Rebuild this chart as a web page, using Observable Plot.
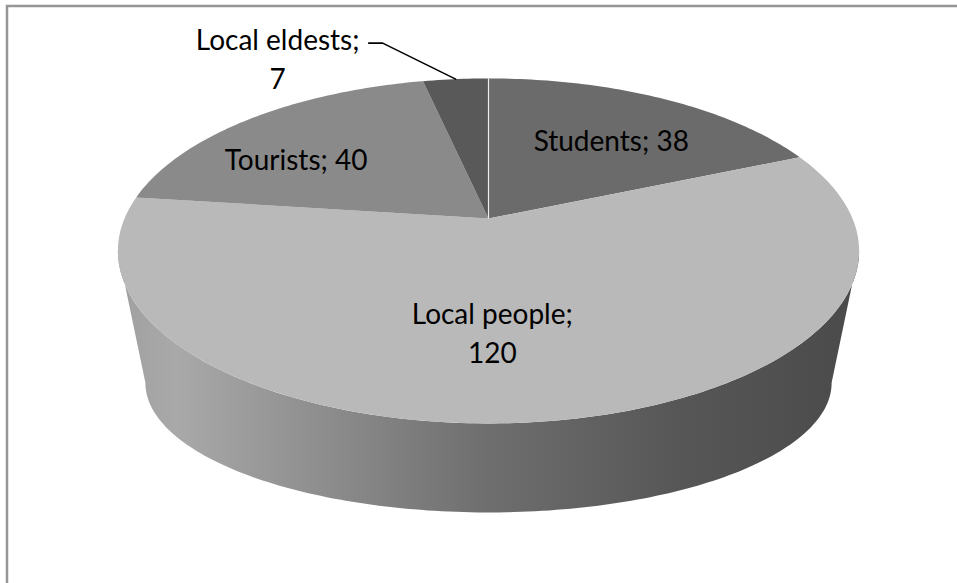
<!DOCTYPE html>
<html><head><meta charset="utf-8">
<script src="https://cdn.jsdelivr.net/npm/d3@7"></script>
<script src="https://cdn.jsdelivr.net/npm/@observablehq/plot@0.6"></script>
<style>body{margin:0;background:#fff}</style>
</head><body><div id="chart"></div>
<script>
// ---- data ----
const categories = ["Students", "Local people", "Tourists", "Local eldests"];
const values = [38, 120, 40, 7];
const sliceColors = ["#6b6b6b", "#b9b9b9", "#8a8a8a", "#595959"];
const twoLineLabel = [false, true, false, true];

// ---- layout (3D projection of the pie) ----
const W = 957, H = 583;
const G = {cx: 488, cy: 218, a: 364, b: 166.4, k: 0.188, aB: 337, bB: 125, cyB: 358};
function topPt(t, r = 1) {
  const u = r * Math.sin(t), v = r * Math.cos(t), w = 1 + G.k * v;
  return [G.cx + G.a * u / w, G.cy - G.b * v / w];
}
function botPt(t) {
  const u = Math.sin(t), v = Math.cos(t), w = 1 + G.k * v;
  return [G.cx + G.aB * u / w, G.cyB - G.bB * v / w];
}
const labelLayout = [
  {r: 0.6, dx: 13, dy: -4},
  {r: 0.6, dx: -30, dy: 1},
  {r: 0.6, dx: -43, dy: 2},
  {r: 1.0, dx: -178, dy: -22, leader: [[-73, -36], [-87, -36]]}
];

const arcs = d3.pie().sort(null).value(d => d)(values);
const DEG = Math.PI / 180;

// top faces
const faceRows = [];
arcs.forEach((p, i) => {
  const n = Math.max(2, Math.ceil((p.endAngle - p.startAngle) / DEG));
  faceRows.push({slice: i, x: G.cx, y: G.cy, fill: sliceColors[i]});
  for (let j = 0; j <= n; j++) {
    const t = p.startAngle + (p.endAngle - p.startAngle) * j / n;
    const [x, y] = topPt(t);
    faceRows.push({slice: i, x, y, fill: sliceColors[i]});
  }
});

// visible front wall
const tR = Math.acos(-G.k), tL = 2 * Math.PI - tR;
const wallRows = [];
arcs.forEach((p, i) => {
  const s = Math.max(p.startAngle, tR), e = Math.min(p.endAngle, tL);
  if (e <= s) return;
  const n = Math.max(2, Math.ceil((e - s) / DEG));
  for (let j = 0; j <= n; j++) {
    const t = s + (e - s) * j / n; const [x, y] = topPt(t);
    wallRows.push({slice: i, x, y});
  }
  for (let j = n; j >= 0; j--) {
    const t = s + (e - s) * j / n; const [x, y] = botPt(t);
    wallRows.push({slice: i, x, y});
  }
});

// highlight edge along the start radius
const edgeRows = [{x1: G.cx, y1: G.cy, x2: topPt(0)[0], y2: topPt(0)[1]}];

// labels
const labelRows = arcs.map((p, i) => {
  const mid = (p.startAngle + p.endAngle) / 2, L = labelLayout[i];
  const [x, y] = topPt(mid, L.r);
  return {x: x + L.dx, y: y + L.dy, ax: x, ay: y,
    text: categories[i] + ";" + (twoLineLabel[i] ? "\n" : " ") + values[i], leader: L.leader};
});
const leaderRows = [];
labelRows.forEach((d, i) => {
  if (!d.leader) return;
  leaderRows.push({id: i, x: d.ax, y: d.ay});
  d.leader.forEach(([ox, oy]) => leaderRows.push({id: i, x: d.ax + ox, y: d.ay + oy}));
});

const chart = Plot.plot({
  width: W, height: H, margin: 0,
  x: {domain: [0, W], range: [0, W], axis: null},
  y: {domain: [0, H], range: [0, H], axis: null},
  color: {type: "identity"},
  marks: [
    Plot.frame({stroke: "#969696", strokeWidth: 2.5, insetLeft: 6.5, insetTop: 5.5, insetRight: -10, insetBottom: -10}),
    Plot.line(wallRows, {x: "x", y: "y", z: "slice", fill: "url(#wallGrad)", stroke: "none"}),
    Plot.line(faceRows, {x: "x", y: "y", z: "slice", fill: "fill", stroke: "none"}),
    Plot.link(edgeRows, {x1: "x1", y1: "y1", x2: "x2", y2: "y2", stroke: "#ffffff", strokeWidth: 1.2, strokeOpacity: 0.85}),
    Plot.line(leaderRows, {x: "x", y: "y", z: "id", stroke: "#000", strokeWidth: 1.6}),
    Plot.text(labelRows, {x: "x", y: "y", text: "text", fontSize: 28, fontFamily: "Lato", lineHeight: 1.4, fill: "#000"})
  ]
});

const defs = d3.select(chart).insert("defs", ":first-child");
const grad = defs.append("linearGradient").attr("id", "wallGrad")
  .attr("x1", 0).attr("x2", 1).attr("y1", 0).attr("y2", 0);
[[0, "#a0a0a0"], [0.08, "#a9a9a9"], [0.35, "#838383"], [0.5, "#6e6e6e"], [0.75, "#575757"], [1, "#4a4a4a"]]
  .forEach(([o, c]) => grad.append("stop").attr("offset", o).attr("stop-color", c));

document.getElementById("chart").append(chart);
</script>
</body></html>
